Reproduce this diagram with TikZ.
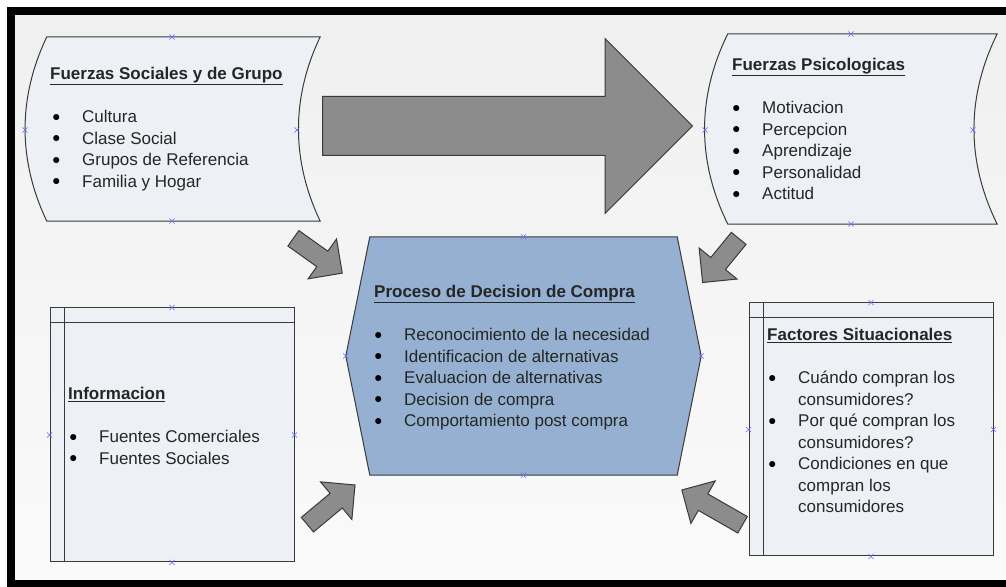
\documentclass[tikz,border=0pt]{standalone}
\usepackage{fontspec}
\setmainfont{Liberation Sans}
\usetikzlibrary{shapes.arrows,shapes.misc}

\definecolor{boxfill}{HTML}{EDF0F5}
\definecolor{procfill}{HTML}{95B0D1}
\definecolor{arrowfill}{HTML}{8C8C8C}
\definecolor{linegray}{HTML}{3A3A3A}
\definecolor{txt}{HTML}{262626}
\definecolor{conncol}{HTML}{6A6AFF}

% bullet and hanging indent for the lists
\newcommand{\bul}[1][2pt]{\hspace*{#1}\makebox[30pt][l]{\raisebox{1.3pt}{\fontsize{14}{14}\selectfont\color{black}●}}}
\newcommand{\ind}[1][2pt]{\hspace*{#1}\hspace*{30pt}}

\begin{document}
\begin{tikzpicture}[x=1pt,y=1pt,
	every node/.style={font=\fontsize{17}{21.5}\selectfont,text=txt},
	holder/.style={draw=none,inner sep=0pt,minimum width=#1},
	shapeline/.style={draw=linegray,line width=1pt},
	wavebox/.style={shapeline,fill=boxfill},
	listbox/.style={shapeline,fill=boxfill,inner sep=0pt},
	procbox/.style={shapeline,fill=procfill},
	listtext/.style={anchor=north west,align=left,inner sep=0pt},
	bigarrow/.style={single arrow,draw=linegray,fill=arrowfill,line width=1pt,
		inner xsep=0pt,inner ysep=29pt,single arrow head extend=58pt,
		minimum width=0pt,minimum height=370pt,anchor=tail},
	smallarrow/.style={single arrow,draw=linegray,fill=arrowfill,line width=1pt,
		inner xsep=0pt,inner ysep=9pt,single arrow head extend=15pt,
		minimum width=0pt,anchor=tail},
	connpt/.style={cross out,draw=conncol,line width=0.6pt,minimum size=4.5pt,inner sep=0pt}]
	\useasboundingbox (0,0) rectangle (1006,586);
	\clip (0,0) rectangle (1006,586);

	% background and frame
	\shade[top color=white!94!black,bottom color=white!98!black] (15,6) rectangle (1006,571);
	\draw[line width=8pt,black] (11,2) rectangle (1016,575);

	% the two wave shapes on top
	\node[holder=273pt,minimum height=184pt] (social) at (183.5,457) {};
	\draw[wavebox] (social.north west) -- (social.north east)
		.. controls +(-29,-61) and +(-29,61) .. (social.south east)
		-- (social.south west)
		.. controls +(-29,61) and +(-29,-61) .. (social.north west) -- cycle;

	\node[holder=269pt,minimum height=190pt] (psych) at (862.5,457) {};
	\draw[wavebox] (psych.north west) -- (psych.north east)
		.. controls +(-31,-63) and +(-31,63) .. (psych.south east)
		-- (psych.south west)
		.. controls +(-31,63) and +(-31,-63) .. (psych.north west) -- cycle;

	% the process in the middle
	\node[holder=307pt,minimum height=238pt] (proc) at (523.5,230) {};
	\draw[procbox] (proc.north west) -- (proc.north east) -- ([xshift=24pt]proc.east)
		-- (proc.south east) -- (proc.south west) -- ([xshift=-24pt]proc.west) -- cycle;

	% the two boxes below
	\node[listbox,minimum width=244pt,minimum height=254pt] (info) at (172,151) {};
	\draw[shapeline] ([xshift=15pt]info.north west) -- ([xshift=15pt]info.south west);
	\draw[shapeline] ([yshift=-15pt]info.north west) -- ([yshift=-15pt]info.north east);

	\node[listbox,minimum width=244pt,minimum height=253pt] (fact) at (871,156.5) {};
	\draw[shapeline] ([xshift=15pt]fact.north west) -- ([xshift=15pt]fact.south west);
	\draw[shapeline] ([yshift=-15pt]fact.north west) -- ([yshift=-15pt]fact.north east);

	% texts
	\node[listtext] (socialtxt) at (50,519) {\underline{\textbf{Fuerzas Sociales y de Grupo}}\\[21.5pt]
		\bul Cultura\\ \bul Clase Social\\ \bul Grupos de Referencia\\ \bul Familia y Hogar};
	\node[listtext] (psychtxt) at (732,528) {\underline{\textbf{Fuerzas Psicologicas}}\\[21.5pt]
		\bul[0pt]Motivacion\\ \bul[0pt]Percepcion\\ \bul[0pt]Aprendizaje\\
		\bul[0pt]Personalidad\\ \bul[0pt]Actitud};
	\node[listtext] (proctxt) at (374,301) {\underline{\textbf{Proceso de Decision de Compra}}\\[21.5pt]
		\bul[0pt]Reconocimiento de la necesidad\\ \bul[0pt]Identificacion de alternativas\\
		\bul[0pt]Evaluacion de alternativas\\ \bul[0pt]Decision de compra\\
		\bul[0pt]Comportamiento post compra};
	\node[listtext] (infotxt) at (68,199) {\underline{\textbf{Informacion}}\\[21.5pt]
		\bul[1pt]Fuentes Comerciales\\ \bul[1pt]Fuentes Sociales};
	\node[listtext] (facttxt) at (767,258) {\underline{\textbf{Factores Situacionales}}\\[21.5pt]
		\bul[1pt]Cuándo compran los\\ \ind[1pt]consumidores?\\
		\bul[1pt]Por qué compran los\\ \ind[1pt]consumidores?\\
		\bul[1pt]Condiciones en que\\ \ind[1pt]compran los\\ \ind[1pt]consumidores};

	% block arrows
	\node[bigarrow] (bigarr) at (322,460) {};
	\node[smallarrow,rotate=-35.5,minimum height=60pt] (arrsocial) at (293,348) {};
	\node[smallarrow,rotate=-129.3,minimum height=57pt] (arrpsych) at (739,348) {};
	\node[smallarrow,rotate=39.8,minimum height=62pt] (arrinfo) at (307,61) {};
	\node[smallarrow,rotate=150.2,minimum height=70pt] (arrfact) at (743,61) {};

	% connection points
	\foreach \p [count=\i] in {(172,549),(172,365),(25,456),(297,456),
		(851,552),(851,362),(705,456),(973,456),
		(proc.north),(proc.south),([xshift=-24pt]proc.west),([xshift=24pt]proc.east),
		(info.north),(info.south),(info.west),(info.east),
		(fact.north),(fact.south),(fact.west),(fact.east)}
		\node[connpt] (cp\i) at \p {};
\end{tikzpicture}
\end{document}
